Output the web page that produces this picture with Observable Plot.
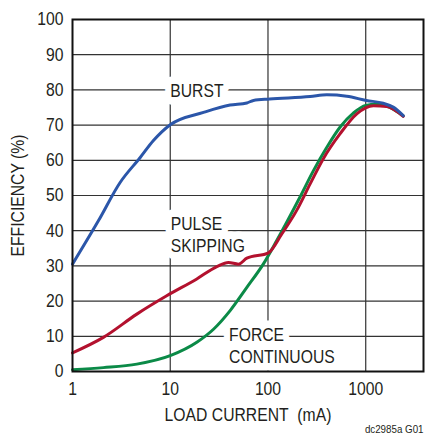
<!DOCTYPE html>
<html>
<head>
<meta charset="utf-8">
<script src="https://cdn.jsdelivr.net/npm/d3@7"></script>
<script src="https://cdn.jsdelivr.net/npm/@observablehq/plot@0.6"></script>
<style>
  html, body { margin: 0; padding: 0; background: #fff; }
  svg { display: block; }
</style>
</head>
<body>
<div id="chart"></div>
<script>
// Load current (mA) / efficiency (%)
const burstX = [1, 1.84, 3.07, 4.93, 6.73, 10, 21.9, 41, 60.8, 71, 104, 270, 400, 640, 1015, 1510, 1910, 2420];
const burstY = [30.5, 42.8, 53.7, 60.8, 65.6, 70.1, 73.6, 75.7, 76.3, 77, 77.4, 78.1, 78.6, 78.2, 77, 76.2, 75.1, 72.7];

const pulseX = [1, 2.07, 4.55, 9.2, 18.7, 30, 39.4, 49.9, 60.8, 101, 138, 196, 270, 367, 545, 810, 1200, 1640, 2420];
const pulseY = [5.3, 9.7, 16.3, 21.5, 26.3, 29.8, 31, 30.5, 32.2, 33.7, 39, 45.7, 53.3, 60.4, 67.5, 73.2, 75.5, 75.3, 72.5];

const forceX = [1, 2.07, 4.55, 10, 18.7, 27.7, 41, 60.8, 89.5, 123, 212, 291, 400, 545, 746, 1000, 1290, 1640, 2420];
const forceY = [0.5, 1.1, 2.1, 4.5, 8.3, 12, 17.3, 23.9, 30.5, 37.2, 49.5, 57, 63.7, 69.4, 73.4, 75.6, 75.9, 75.4, 72.6];

const seriesNames = ["FORCE CONTINUOUS", "PULSE SKIPPING", "BURST"];
const seriesColors = ["#0b8a47", "#b3112e", "#2b56a9"];

const xTicks = [1, 10, 100, 1000];
const yTicks = [0, 10, 20, 30, 40, 50, 60, 70, 80, 90, 100];
const xGrid = [10, 100, 1000];
const yGrid = [10, 20, 30, 40, 50, 60, 70, 80, 90];

const labelText = ["BURST", "PULSE\nSKIPPING", "FORCE\nCONTINUOUS"];
const labelX = [10, 10.1, 40];
const labelY = [80, 39, 7.6];

const xTitle = "LOAD CURRENT\u00a0\u00a0(mA)";
const yTitle = "EFFICIENCY (%)";
const caption = "dc2985a G01";

const toRows = (xs, ys, name) => xs.map((x, i) => ({x, y: ys[i], series: name}));
const data = [
  ...toRows(forceX, forceY, seriesNames[0]),
  ...toRows(pulseX, pulseY, seriesNames[1]),
  ...toRows(burstX, burstY, seriesNames[2])
];
const labels = labelText.map((t, i) => ({t, x: labelX[i], y: labelY[i]}));

const font = "'Liberation Sans', Arial, sans-serif";

const chart = Plot.plot({
  width: 425,
  height: 437,
  marginLeft: 72,
  marginRight: 2,
  marginTop: 19,
  marginBottom: 66,
  style: {fontFamily: font, fontSize: "18px", color: "#231f20", background: "#fff"},
  x: {type: "log", domain: [1, 3900]},
  y: {domain: [0, 100]},
  color: {domain: seriesNames, range: seriesColors},
  marks: [
    Plot.ruleY(yGrid, {stroke: "#333", strokeWidth: 1.2}),
    Plot.ruleX(xGrid, {stroke: "#333", strokeWidth: 1.2}),
    Plot.text(labels, {x: "x", y: "y", text: "t", textAnchor: "start", lineHeight: 1.2,
      fill: "white", stroke: "white", strokeWidth: 15, strokeLinejoin: "round", fontSize: 18.5}),
    Plot.line(data, {x: "x", y: "y", z: "series", stroke: "series", strokeWidth: 3, curve: "monotone-x"}),
    Plot.text(labels, {x: "x", y: "y", text: "t", textAnchor: "start", lineHeight: 1.2,
      fill: "#231f20", fontSize: 18.5}),
    Plot.frame({stroke: "#111", strokeWidth: 2}),
    Plot.axisX({ticks: xTicks, tickFormat: d => String(d), tickSize: 0, tickPadding: 10,
      label: xTitle, labelAnchor: "center", labelArrow: "none", labelOffset: 49, fontSize: 18.5}),
    Plot.axisY({ticks: yTicks, tickSize: 0, tickPadding: 9,
      label: yTitle, labelAnchor: "center", labelArrow: "none", labelOffset: 62, fontSize: 18.5}),
    Plot.text([caption], {frameAnchor: "bottom-right", text: d => d, dy: 61, fontSize: 11.5, fill: "#231f20", textAnchor: "end"})
  ]
});
document.getElementById("chart").appendChild(chart);

// Condense all text horizontally (the reference uses a narrow typeface)
const squeeze = 0.85;
chart.querySelectorAll("text").forEach(el => {
  const bb = el.getBBox();
  const anchor = getComputedStyle(el).textAnchor;
  const ax = anchor === "end" ? bb.x + bb.width : anchor === "middle" ? bb.x + bb.width / 2 : bb.x;
  const prev = el.getAttribute("transform") || "";
  el.setAttribute("transform", `${prev} translate(${ax},0) scale(${squeeze},1) translate(${-ax},0)`.trim());
});
</script>
</body>
</html>
